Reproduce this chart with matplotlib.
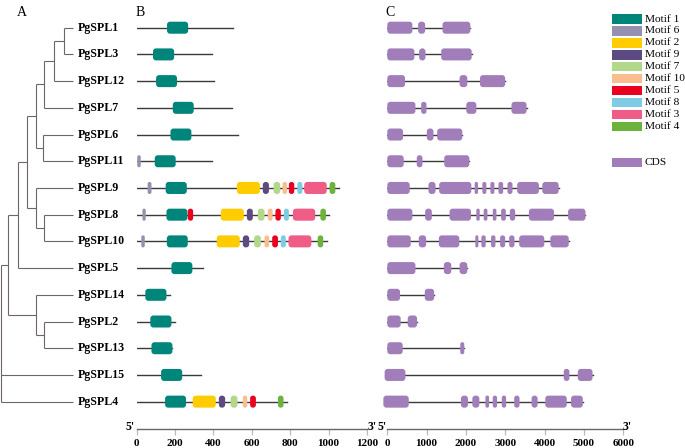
import matplotlib
matplotlib.use('Agg')
from matplotlib import pyplot as plt
from matplotlib.patches import FancyBboxPatch, Rectangle

plt.rcParams['font.family'] = ['Liberation Serif', 'DejaVu Serif']

# Gene order, top to bottom
genes: [str] = ['PgSPL1', 'PgSPL3', 'PgSPL12', 'PgSPL7', 'PgSPL6', 'PgSPL11',
                'PgSPL9', 'PgSPL8', 'PgSPL10', 'PgSPL5', 'PgSPL14', 'PgSPL2',
                'PgSPL13', 'PgSPL15', 'PgSPL4']

# Protein lengths (aa), panel B
prot_len: [int] = [501, 390, 403, 494, 529, 393, 1052, 1002, 990, 343,
                   174, 197, 183, 336, 781]

# Motif sites (motif number, start, end), panel B
motif_sites = [
    [(1, 158, 268)],
    [(1, 85, 195)],
    [(1, 101, 210)],
    [(1, 188, 297)],
    [(1, 176, 285)],
    [(6, 3, 21), (1, 94, 203)],
    [(6, 57, 77), (1, 151, 261), (2, 522, 642), (9, 657, 689), (7, 713, 748),
     (10, 760, 783), (5, 793, 821), (8, 837, 863), (3, 873, 990), (4, 1005, 1035)],
    [(6, 30, 47), (1, 155, 264), (5, 266, 294), (2, 438, 558), (9, 574, 605),
     (7, 631, 666), (10, 683, 708), (5, 723, 751), (8, 767, 793), (3, 814, 930),
     (4, 957, 986)],
    [(6, 24, 42), (1, 157, 266), (2, 417, 537), (9, 553, 586), (7, 612, 647),
     (10, 666, 690), (5, 706, 736), (8, 751, 777), (3, 791, 910), (4, 943, 972)],
    [(1, 181, 290)],
    [(1, 45, 155)],
    [(1, 71, 181)],
    [(1, 77, 186)],
    [(1, 127, 237)],
    [(1, 148, 257), (2, 292, 412), (9, 428, 461), (7, 489, 525), (10, 553, 576),
     (5, 591, 621), (4, 736, 765)],
]

# CDS exons (start, end) in bp, panel C
cds_sites = [
    [(0, 638), (783, 962), (1404, 2111)],
    [(0, 689), (809, 970), (1370, 2145)],
    [(0, 451), (1838, 2034), (2357, 2996)],
    [(0, 715), (860, 996), (2009, 2264), (3157, 3540)],
    [(0, 400), (1004, 1174), (1268, 1906)],
    [(0, 417), (749, 894), (1447, 2085)],
    [(0, 570), (1047, 1226), (1319, 2136), (2221, 2306), (2417, 2519),
     (2621, 2723), (2826, 2945), (3055, 3183), (3302, 3855), (3940, 4357)],
    [(0, 638), (962, 1132), (1583, 2128), (2264, 2349), (2451, 2545),
     (2681, 2774), (2894, 3013), (3115, 3251), (3600, 4238), (4596, 5038)],
    [(0, 596), (800, 987), (1311, 1830), (2238, 2315), (2391, 2502),
     (2638, 2749), (2868, 2996), (3098, 3234), (3353, 3991), (4145, 4613)],
    [(0, 715), (1438, 1626), (1838, 2034)],
    [(0, 323), (953, 1191)],
    [(0, 340), (519, 757)],
    [(0, 391), (1855, 1957)],
    [(-68, 460), (4485, 4630), (4843, 5217)],
    [(-100, 545), (1872, 2051), (2162, 2340), (2494, 2587), (2681, 2791),
     (2911, 3021), (3226, 3362), (3668, 3821), (4017, 4562), (4672, 4970)],
]

# Legend order and colours
motif_order: [int] = [1, 6, 2, 9, 7, 10, 5, 8, 3, 4]
motif_colors = {1: '#00857a', 6: '#9590b0', 2: '#ffcc00', 9: '#5c4a82',
                7: '#b2d98a', 10: '#fbbc8e', 5: '#ec0020', 8: '#7fcbe3',
                3: '#ef5c85', 4: '#6db23d'}
cds_color: str = '#a17db9'

b_ticks: [int] = [0, 200, 400, 600, 800, 1000, 1200]
c_ticks: [int] = [0, 1000, 2000, 3000, 4000, 5000, 6000]

# Tree: (node depth, children); leaves are gene names
tree = (0.8, [
    (8.3, [
        (17.7, [
            (26.7, [
                (36.0, [
                    (44.3, [(54.0, [(64.3, ['PgSPL1', 'PgSPL3']), 'PgSPL12']),
                            'PgSPL7']),
                    (43.3, ['PgSPL6', 'PgSPL11']),
                ]),
                (36.0, ['PgSPL9', (44.3, ['PgSPL8', 'PgSPL10'])]),
            ]),
            'PgSPL5',
        ]),
        (35.7, ['PgSPL14', (44.3, ['PgSPL2', 'PgSPL13'])]),
    ]),
    'PgSPL15',
    'PgSPL4',
])
leaf_end: float = 72.7

W, H = 685, 448
row0, row_step = 27.7, 26.71      # pixel y of first row, row spacing
axis_y = 429.0                    # pixel y of the scale line
ylim = ((axis_y - row0) / row_step, (0 - row0) / row_step)
box_h = 0.45
tree_col = '#6e6666'
line_col = '#3a3a3a'


def px_axes(fig, x0, x1):
    return fig.add_axes([x0 / W, (H - axis_y) / H, (x1 - x0) / W, axis_y / H])


def round_box(ax, x0, x1, y, color, xpp, r_px=3.0):
    # rounded rectangle in data units; xpp = x units per pixel
    aspect = (1.0 / row_step) / xpp
    w = x1 - x0
    r = min(r_px * xpp, w / 2 * 0.95, box_h / aspect / 2 * 0.95)
    ax.add_patch(FancyBboxPatch((x0, y - box_h / 2), w, box_h,
                                boxstyle='round,pad=0,rounding_size=%f' % r,
                                mutation_aspect=aspect, fc=color, ec='none',
                                zorder=3, clip_on=False))


def scale_axis(ax, ticks):
    for s in ['top', 'left', 'right']:
        ax.spines[s].set_visible(False)
    ax.spines['bottom'].set_color('#666666')
    ax.spines['bottom'].set_linewidth(1.0)
    ax.set_yticks([])
    ax.set_xticks(ticks)
    ax.tick_params(axis='x', length=4.3, width=0.9, color='#bbbbbb',
                   pad=3, labelsize=8)
    for t in ax.get_xticklabels():
        t.set_fontweight('bold')
    ax.patch.set_visible(False)


fig = plt.figure(figsize=(6.85, 4.48), dpi=100)

# ---- A: tree ----
ax_t = px_axes(fig, 0, 136.7)
ax_t.set_xlim(0, 136.7)
ax_t.set_ylim(*ylim)
ax_t.axis('off')
rows = {g: i for i, g in enumerate(genes)}


def draw_clade(node):
    if isinstance(node, str):
        ax_t.text(leaf_end + 5.0, rows[node], node, fontsize=8.6,
                  fontweight='bold', va='center', ha='left')
        return leaf_end, rows[node]
    depth, kids = node
    ys = []
    for k in kids:
        kx, ky = draw_clade(k)
        ax_t.plot([depth, kx], [ky, ky], color=tree_col, lw=0.8,
                  solid_capstyle='butt')
        ys.append(ky)
    ax_t.plot([depth, depth], [min(ys), max(ys)], color=tree_col, lw=0.8,
              solid_capstyle='butt')
    return depth, (min(ys) + max(ys)) / 2


draw_clade(tree)

# ---- B: motifs ----
ax_b = px_axes(fig, 136.7, 367.0)
ax_b.set_xlim(0, 1200)
ax_b.set_ylim(*ylim)
xpp_b = 1200 / (367.0 - 136.7)
for i, g in enumerate(genes):
    ax_b.plot([0, prot_len[i]], [i, i], color=line_col, lw=1.0, zorder=2)
    for m, s, e in motif_sites[i]:
        round_box(ax_b, s, e, i, motif_colors[m], xpp_b)
scale_axis(ax_b, b_ticks)

# ---- C: gene structure ----
ax_c = px_axes(fig, 387.3, 623.3)
ax_c.set_xlim(0, 6000)
ax_c.set_ylim(*ylim)
xpp_c = 6000 / (623.3 - 387.3)
for i, g in enumerate(genes):
    ex = cds_sites[i]
    ax_c.plot([ex[0][0], ex[-1][1]], [i, i], color=line_col, lw=1.0, zorder=2)
    for s, e in ex:
        round_box(ax_c, s, e, i, cds_color, xpp_c)
scale_axis(ax_c, c_ticks)

# ---- overlay: panel letters, 5'/3', legend ----
ax_o = fig.add_axes([0, 0, 1, 1])
ax_o.set_xlim(0, W)
ax_o.set_ylim(H, 0)
ax_o.axis('off')
for lab, x in [('A', 22), ('B', 140), ('C', 390)]:
    ax_o.text(x, 13, lab, fontsize=10, ha='center', va='center')
for lab, x, ha in [("5'", 134.5, 'right'), ("3'", 367.5, 'left'),
                   ("5'", 386.5, 'right'), ("3'", 623.0, 'left')]:
    ax_o.text(x, 430.5, lab, fontsize=8.5, fontweight='bold', ha=ha,
              va='baseline')

for k, m in enumerate(motif_order):
    y = 19 + k * 11.96
    ax_o.add_patch(Rectangle((611.7, y - 4.65), 30, 9.3, fc=motif_colors[m],
                             ec='none'))
    ax_o.text(645, y, 'Motif %d' % m, fontsize=8.2, va='center', ha='left')
ax_o.add_patch(Rectangle((611.7, 162.7 - 4.65), 30, 9.3, fc=cds_color,
                         ec='none'))
ax_o.text(645, 162.7, 'CDS', fontsize=8.2, va='center', ha='left')

plt.savefig('out.png', dpi=100)
